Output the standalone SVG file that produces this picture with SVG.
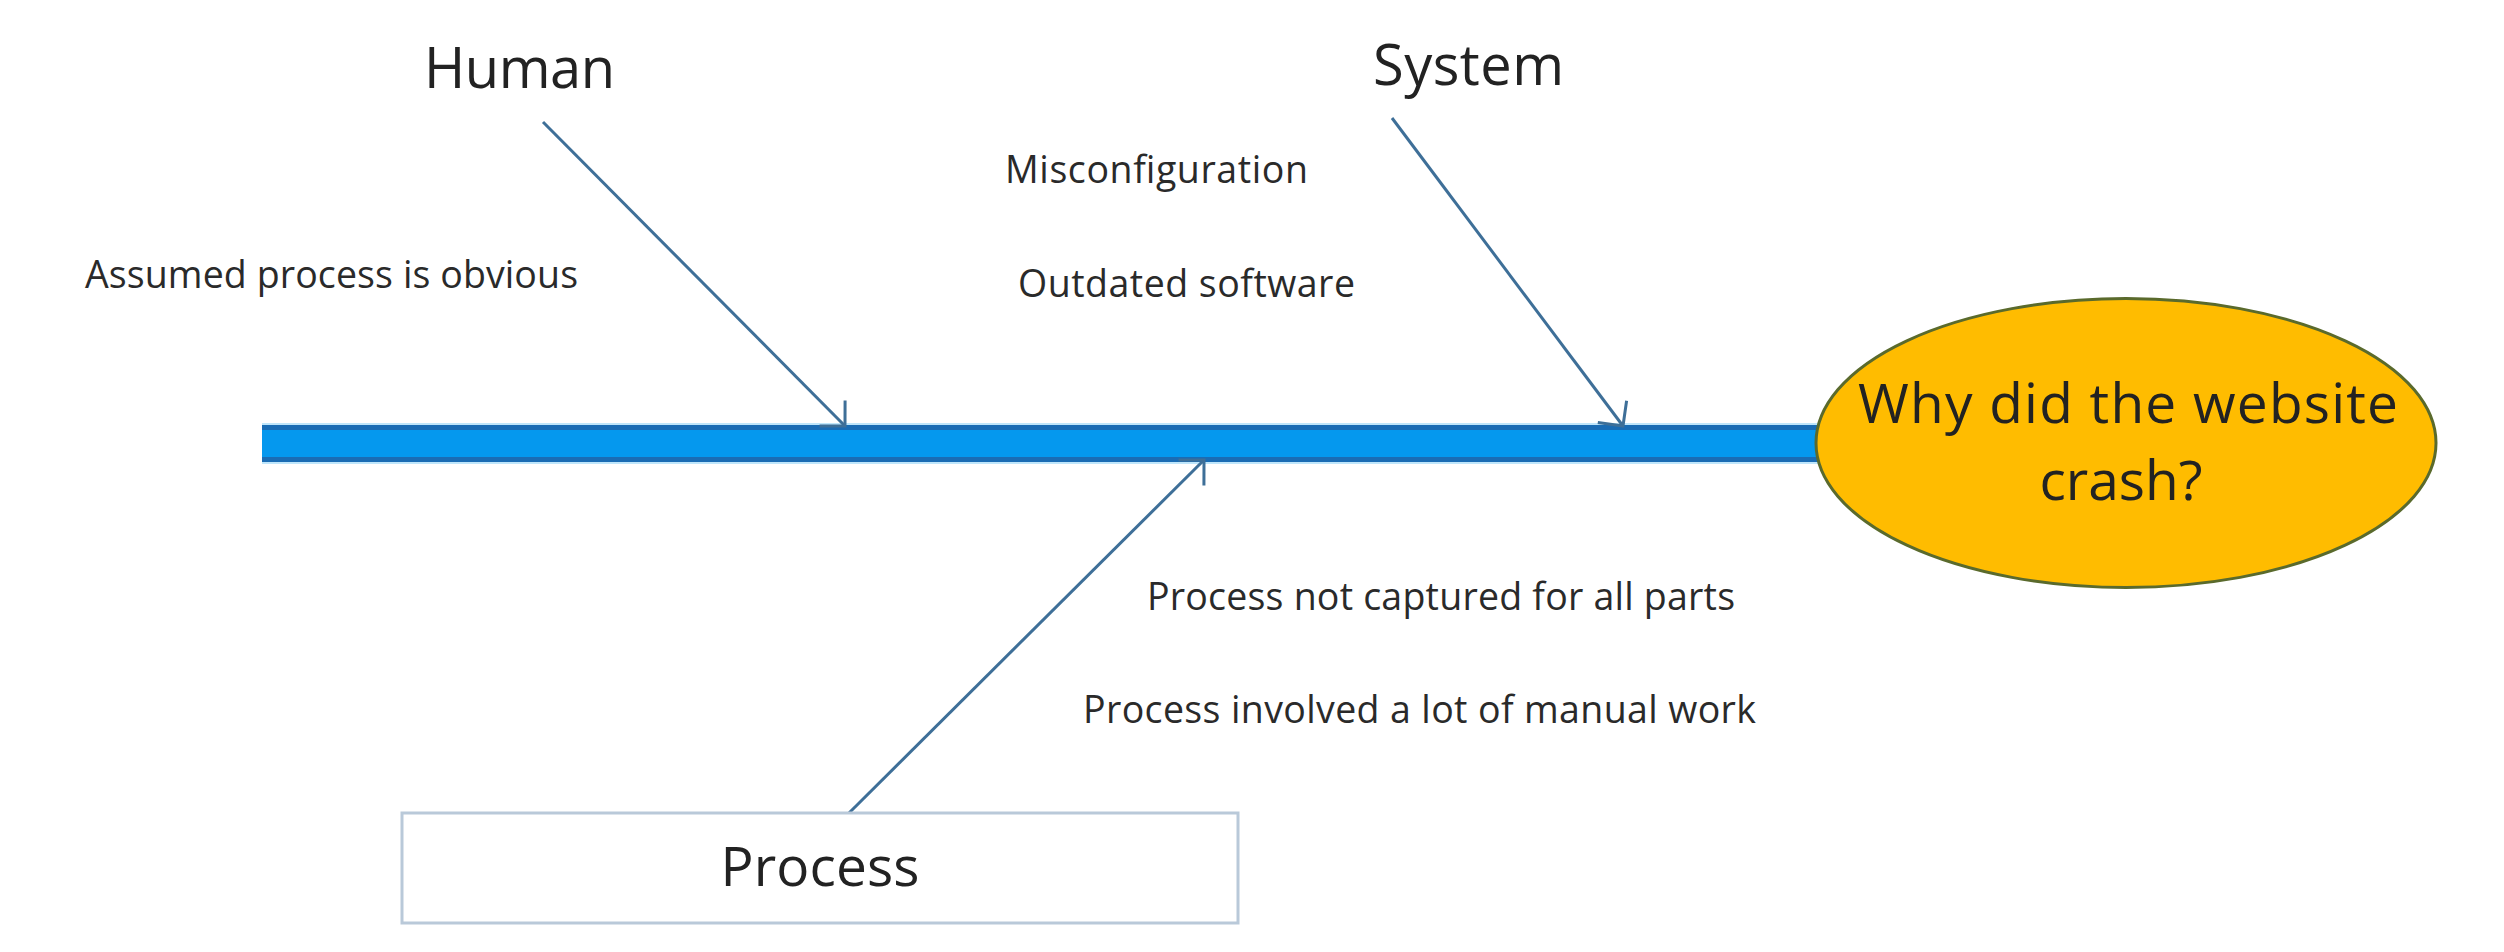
<svg xmlns="http://www.w3.org/2000/svg" width="2504" height="952" viewBox="0 0 2504 952">
<style>
.t{font-family:"Open Sans","Liberation Sans",sans-serif;fill:#222222}
.cat{font-size:56px}
.lbl{font-size:37.5px;fill:#2a2a2a}
.bone{stroke:#3e6f98;stroke-width:3;fill:none}
</style>
<defs>
<marker id="arr" markerUnits="userSpaceOnUse" markerWidth="40" markerHeight="40" viewBox="-30 -20 34 40" refX="0" refY="0" orient="auto">
<path d="M -18 -18 L 0 0 L -18 18" fill="none" stroke="#3e6f98" stroke-width="3"/>
</marker>
</defs>
<rect width="2504" height="952" fill="#ffffff"/>
<g id="spine">
<rect x="262" y="425" width="1580" height="37" fill="#1a6cb4"/>
<rect x="262" y="430" width="1580" height="27" fill="#0598ee"/>
<line x1="262" y1="424" x2="1842" y2="424" stroke="#bfe6fb" stroke-width="2"/>
<line x1="262" y1="463" x2="1842" y2="463" stroke="#bfe6fb" stroke-width="2"/>
</g>
<g id="connectors">
<line class="bone" x1="543" y1="122" x2="845" y2="426" marker-end="url(#arr)"/>
<line class="bone" x1="1392" y1="118" x2="1623" y2="426" marker-end="url(#arr)"/>
<line class="bone" x1="849" y1="813" x2="1204" y2="460" marker-end="url(#arr)"/>
</g>
<g id="effect">
<ellipse cx="2126" cy="443" rx="310" ry="144.5" fill="#ffbc00" stroke="#5a6a2c" stroke-width="3"/>
<text class="t" x="2128" y="423" font-size="55" text-anchor="middle" fill="#2b1c00" textLength="540">Why did the website</text>
<text class="t" x="2121" y="500" font-size="55" text-anchor="middle" fill="#2b1c00">crash?</text>
</g>
<g id="human">
<text class="t cat" x="424" y="88" textLength="191">Human</text>
<text class="t lbl" x="85" y="288" textLength="493">Assumed process is obvious</text>
</g>
<g id="system">
<text class="t cat" x="1373" y="85" textLength="191">System</text>
<text class="t lbl" x="1005" y="183" textLength="303">Misconfiguration</text>
<text class="t lbl" x="1018" y="297" textLength="337">Outdated software</text>
</g>
<g id="process">
<rect x="402" y="813" width="836" height="110" fill="#ffffff" stroke="#b9c9d9" stroke-width="3"/>
<text class="t" x="820" y="886" font-size="55" text-anchor="middle" textLength="199">Process</text>
<text class="t lbl" x="1147" y="610" textLength="588">Process not captured for all parts</text>
<text class="t lbl" x="1083" y="723" textLength="673">Process involved a lot of manual work</text>
</g>
</svg>
